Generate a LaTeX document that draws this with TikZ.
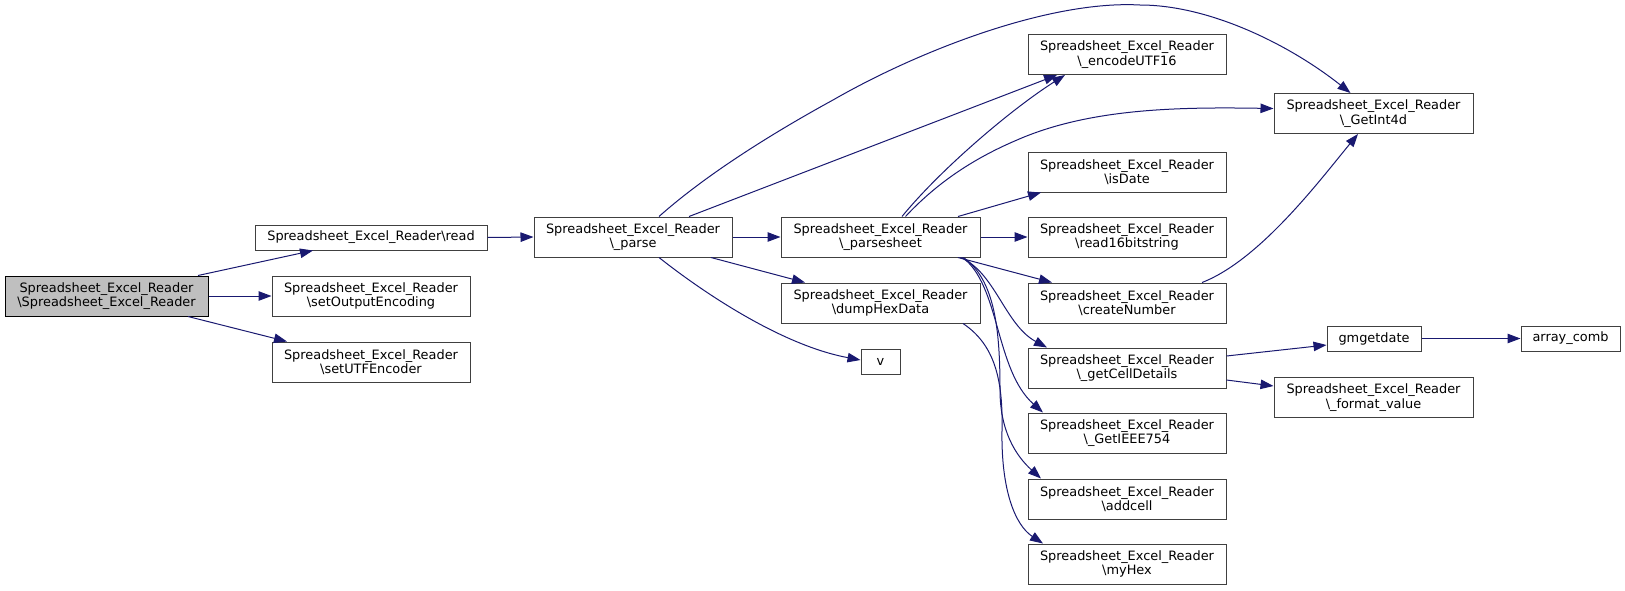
\documentclass[tikz,border=0pt]{standalone}
\usepackage{fontspec}
\setmainfont{DejaVu Sans}
\usetikzlibrary{arrows.meta,calc}
\definecolor{edgeblue}{HTML}{191970}
\definecolor{boxline}{HTML}{404040}
\definecolor{mainfill}{HTML}{BFBFBF}
\newcommand{\SER}{Spreadsheet\_Excel\_Reader}
\newcommand{\bsl}{\textbackslash}
\begin{document}
\begin{tikzpicture}[x=1pt,y=-1pt,
  box/.style={draw=boxline, line width=1pt, fill=white, inner sep=0pt, align=center,
    font=\fontsize{12.9}{14.4}\selectfont, minimum height=40pt, minimum width=198pt},
  smallbox/.style={box, minimum height=25pt},
  edge/.style={draw=edgeblue, line width=1pt, -{Triangle[length=13pt,width=9.5pt]}}]
\useasboundingbox (0,0) rectangle (1625,590);
% nodes
\node[box, fill=mainfill, draw=black, minimum width=203pt] (main) at (106.5,296) {\SER\\\bsl\SER};
\node[smallbox, minimum width=232pt] (read) at (371,237.5) {\SER\bsl read};
\node[box] (setout) at (371,296) {\SER\\\bsl setOutputEncoding};
\node[box] (setutf) at (371,362) {\SER\\\bsl setUTFEncoder};
\node[box] (parse) at (633,237) {\SER\\\bsl\_parse};
\node[box, minimum width=199pt] (sheet) at (880.5,237) {\SER\\\bsl\_parsesheet};
\node[box, minimum width=199pt] (dump) at (880.5,303) {\SER\\\bsl dumpHexData};
\node[smallbox, minimum width=39pt] (v) at (880.5,361.5) {v};
\node[box] (encode) at (1127,54.5) {\SER\\\bsl\_encodeUTF16};
\node[box, minimum width=199pt] (int4d) at (1373.5,113.5) {\SER\\\bsl\_GetInt4d};
\node[box] (isdate) at (1127,172) {\SER\\\bsl isDate};
\node[box] (read16) at (1127,237) {\SER\\\bsl read16bitstring};
\node[box] (cnum) at (1127,303) {\SER\\\bsl createNumber};
\node[box] (cell) at (1127,368) {\SER\\\bsl\_getCellDetails};
\node[box] (ieee) at (1127,433) {\SER\\\bsl\_GetIEEE754};
\node[box] (addcell) at (1127,499) {\SER\\\bsl addcell};
\node[box] (myhex) at (1127,564) {\SER\\\bsl myHex};
\node[smallbox, minimum width=94pt] (gmget) at (1374,338.5) {gmgetdate};
\node[smallbox, minimum width=99pt] (acomb) at (1570.5,338.5) {array\_comb};
\node[box, minimum width=199pt] (fmt) at (1373.5,397.5) {\SER\\\bsl\_format\_value};
% edges
\draw[edge] ($(main.north)+(91.5,0)$) -- ($(read.south)+(-58,0)$);
\draw[edge] (main.east) -- (setout.west);
\draw[edge] ($(main.south)+(81.5,0)$) -- ($(setutf.north)+(-84,0)$);
\draw[edge] (read.east) -- (parse.west);
\draw[edge] (parse.east) -- (sheet.west);
\draw[edge] ($(parse.south)+(78,0)$) -- ($(dump.north)+(-75.5,0)$);
\draw[edge] ($(parse.south)+(26,0)$) .. controls (700,290) and (780,345) .. ($(v.west)+(0,-1.5)$);
\draw[edge] ($(parse.north)+(26,0)$) .. controls (700,180) and (760,140) .. (833,100)
   .. controls (920,50) and (1050,0) .. (1140,5)
   .. controls (1210,5) and (1290,45) .. ($(int4d.north)+(-23,0)$);
\draw[edge] ($(parse.north)+(56,0)$) -- ($(encode.south)+(-70,0)$);
\draw[edge] ($(sheet.north)+(21.5,0)$) .. controls (940,170) and (1010,110) .. ($(encode.south)+(-62,0)$);
\draw[edge] ($(sheet.north)+(25,0)$) .. controls (935,185) and (970,160) .. (1017,140)
   .. controls (1090,108) and (1180,107) .. ($(int4d.west)+(0,-5)$);
\draw[edge] ($(sheet.north)+(77.5,0)$) -- ($(isdate.south)+(-86,0)$);
\draw[edge] (sheet.east) -- (read16.west);
\draw[edge] ($(sheet.south)+(77.5,0)$) -- ($(cnum.north)+(-75,0)$);
\draw[edge] ($(sheet.south)+(80,0)$) .. controls (995,272) and (1005,325) .. ($(cell.north)+(-80,0)$);
\draw[edge] ($(sheet.south)+(82,0)$) .. controls (1000,285) and (995,370) .. ($(ieee.north)+(-84,0)$);
\draw[edge] ($(sheet.south)+(83,0)$) .. controls (995,280) and (1000,330) .. (1000,390)
   .. controls (1000,430) and (1015,455) .. ($(addcell.north)+(-86,0)$);
\draw[edge] ($(dump.south)+(82.5,0)$) .. controls (995,345) and (1003,380) .. (1002,430)
   .. controls (1001,490) and (1015,525) .. ($(myhex.north)+(-84,0)$);
\draw[edge] ($(cnum.north)+(75,0)$) .. controls (1260,260) and (1320,180) .. ($(int4d.south)+(-15.5,0)$);
\draw[edge] ($(cell.east)+(0,-12)$) -- ($(gmget.west)+(0,6.5)$);
\draw[edge] ($(cell.east)+(0,12)$) -- ($(fmt.west)+(0,-11.5)$);
\draw[edge] (gmget.east) -- (acomb.west);
\end{tikzpicture}
\end{document}
